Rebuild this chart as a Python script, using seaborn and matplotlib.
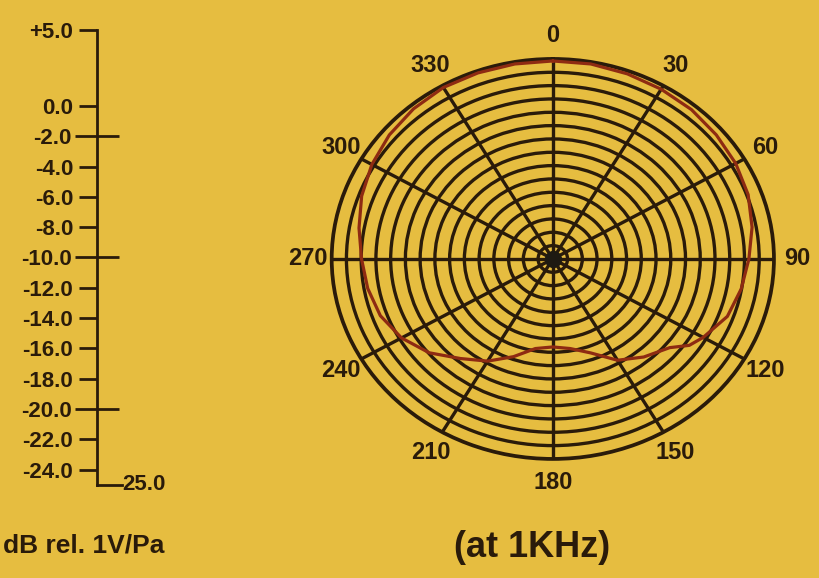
import numpy as np
import pandas as pd
import matplotlib.pyplot as plt
import seaborn as sns

# =========================
# Data
# =========================
# polar response at 1 kHz: angle in degrees (clockwise from front), level in dB
angles_deg = [0, 10, 20, 30, 40, 50, 60, 70, 80, 90, 100, 110, 120, 125, 130, 140, 150,
              160, 170, 180, 190, 200, 210, 220, 230, 240, 250, 260, 270, 280, 290,
              300, 310, 320, 330, 340, 350, 360]
response_db = [4.7, 4.7, 4.55, 4.4, 4.25, 3.95, 3.65, 3.2, 2.45, 1.6, 0.95, 0.2, -1.45, -2.4,
               -4.3, -5.8, -7.45, -10.0, -11.35, -11.8, -11.35, -9.4, -7.3, -5.5, -3.1,
               -1.3, -0.1, 0.5, 0.95, 1.7, 2.6, 3.35, 3.95, 4.4, 4.7, 4.7, 4.7, 4.7]

theta_ticks = [0, 30, 60, 90, 120, 150, 180, 210, 240, 270, 300, 330]
ring_db = [-23, -21, -19, -17, -15, -13, -11, -9, -7, -5, -3, -1, 1, 3]
db_min, db_max = -25, 5

# level scale on the left
scale_ticks = [5, 0, -2, -4, -6, -8, -10, -12, -14, -16, -18, -20, -22, -24]
scale_labels = ["+5.0", "0.0", "-2.0", "-4.0", "-6.0", "-8.0", "-10.0", "-12.0",
                "-14.0", "-16.0", "-18.0", "-20.0", "-22.0", "-24.0"]
scale_long = [-2, -10, -20]

# =========================
# Style
# =========================
bg = "#E6BD40"
ink = "#2A1B0A"
curve_col = "#8E2B12"

sns.set_theme(style="white", rc={"figure.facecolor": bg, "axes.facecolor": bg,
                                 "savefig.facecolor": bg})
plt.rcParams["font.family"] = ["Liberation Sans", "DejaVu Sans"]

fig = plt.figure(figsize=(8.19, 5.78), dpi=100)

# =========================
# Polar pattern
# =========================
ax = fig.add_axes([0.405, 0.206, 0.540, 0.692], projection="polar")
ax.set_aspect("auto")
ax.set_facecolor(bg)
ax.set_theta_zero_location("N")
ax.set_theta_direction(-1)
ax.set_ylim(db_min, db_max)

ax.set_thetagrids(theta_ticks, [str(t) for t in theta_ticks])
ax.set_rgrids(ring_db, labels=[""] * len(ring_db))
ax.grid(True, color=ink, lw=2.4)
ax.spines["polar"].set_color(ink)
ax.spines["polar"].set_linewidth(2.7)
ax.tick_params(axis="x", pad=4, labelsize=17, labelcolor=ink)
for lbl in ax.get_xticklabels():
    lbl.set_fontweight("bold")

df = pd.DataFrame({"theta": np.deg2rad(angles_deg), "level": response_db})
sns.lineplot(data=df, x="theta", y="level", ax=ax, sort=False,
             color=curve_col, lw=2.3, zorder=5)
ax.set_xlabel("")
ax.set_ylabel("")

# hub in the middle
ax.scatter([0], [db_min], s=130, color="#1E1A12", zorder=6, clip_on=False)

# =========================
# Level scale
# =========================
sax = fig.add_axes([0.118, 0.161, 0.031, 0.787])
sax.set_facecolor("none")
sax.set_ylim(db_min, db_max)
sax.set_xlim(0, 1)
for s in ["top", "right"]:
    sax.spines[s].set_visible(False)
for s in ["left", "bottom"]:
    sax.spines[s].set_color(ink)
    sax.spines[s].set_linewidth(2.0)
sax.set_xticks([])

sax.set_yticks(scale_long)
sax.set_yticklabels([scale_labels[scale_ticks.index(v)] for v in scale_long])
sax.set_yticks([v for v in scale_ticks if v not in scale_long], minor=True)
sax.set_yticklabels([scale_labels[i] for i, v in enumerate(scale_ticks) if v not in scale_long],
                    minor=True)
sax.tick_params(axis="y", which="major", left=True, direction="inout", length=32, width=2.0,
                color=ink, labelsize=16, labelcolor=ink, pad=2)
sax.tick_params(axis="y", which="minor", left=True, direction="out", length=13, width=2.0,
                color=ink, labelsize=16, labelcolor=ink, pad=4)
for lbl in sax.get_yticklabels(which="both"):
    lbl.set_fontweight("bold")

sax.text(1.0, db_min, "25.0", transform=sax.get_yaxis_transform(),
         ha="left", va="center", fontsize=16, fontweight="bold", color=ink)

fig.text(0.004, 0.057, "dB rel. 1V/Pa", ha="left", va="center",
         fontsize=19, fontweight="bold", color=ink)
fig.text(0.650, 0.052, "(at 1KHz)", ha="center", va="center",
         fontsize=26, fontweight="bold", color=ink)

fig.savefig("out.png", dpi=100, facecolor=bg)
